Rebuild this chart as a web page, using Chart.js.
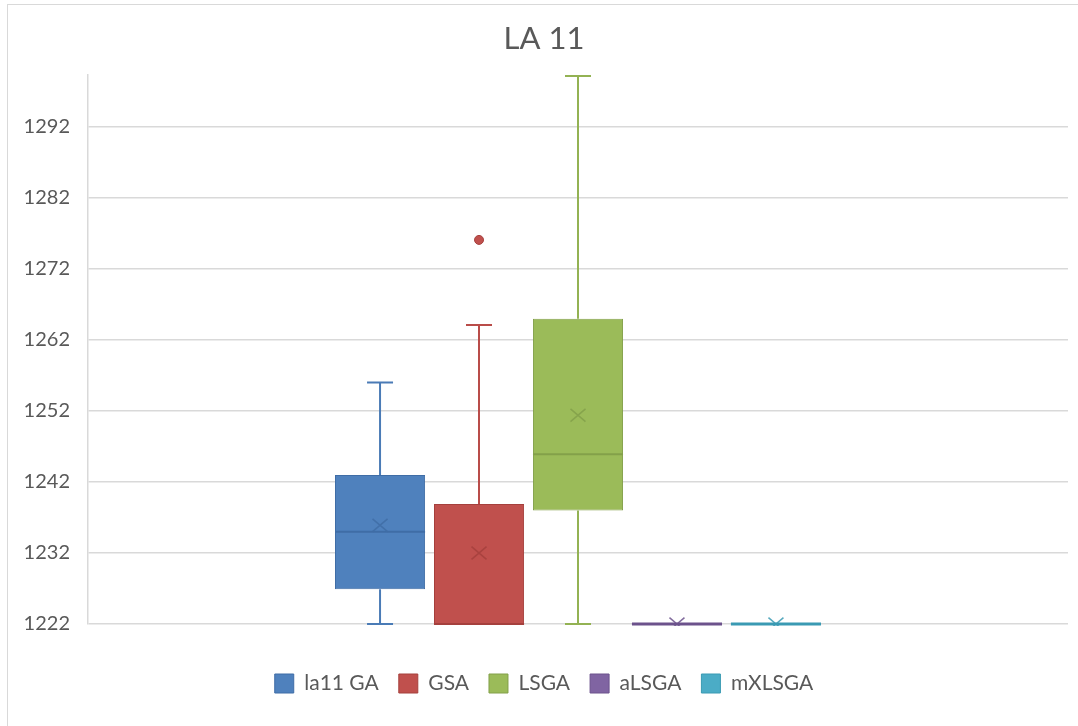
<!DOCTYPE html>
<html>
<head>
<meta charset="utf-8">
<title>LA 11</title>
<script src="https://cdn.jsdelivr.net/npm/chart.js@4/dist/chart.umd.min.js"></script>
<style>
  html, body { margin: 0; padding: 0; background: #ffffff; }
  #wrap { position: relative; width: 1078px; height: 726px; overflow: hidden; }
  #frame { position: absolute; left: 7px; top: 4px; width: 1100px; height: 760px;
           border-top: 1px solid #d9d9d9; border-left: 1px solid #d9d9d9; }
  #chart { position: absolute; left: 0; top: 0; }
</style>
</head>
<body>
<div id="wrap">
  <div id="frame"></div>
  <canvas id="chart" width="1078" height="726"></canvas>
</div>
<script>
// Box-and-whisker summary of the LA 11 results for each algorithm
const categories = [''];
const seriesNames = ['la11 GA', 'GSA', 'LSGA', 'aLSGA', 'mXLSGA'];
const minValues    = [1222,   1222,   1222,   1222, 1222];
const q1Values     = [1226.9, 1222,   1238,   1222, 1222];
const medianValues = [1235,   1222,   1245.9, 1222, 1222];
const q3Values     = [1243,   1238.9, 1265,   1222, 1222];
const maxValues    = [1256,   1264.1, 1299.2, 1222, 1222];
const meanValues   = [1235.9, 1232,   1251.4, 1222, 1222];
const outlierValues = [[], [1276.1], [], [], []];
const yTickValues  = [1222, 1232, 1242, 1252, 1262, 1272, 1282, 1292];
const yAxisMin = 1222;
const yAxisMax = 1299.3;

const fillColors   = ['#4f81bd', '#c0504d', '#9bbb59', '#8064a2', '#4bacc6'];
const borderColors = ['#3f6da6', '#a5403d', '#83a04a', '#6c528c', '#3a9ab3'];
const whiskerColors = ['#4a7bb6', '#b94c49', '#93b253', '#7a5e9c', '#44a5bf'];

const textColor = '#595959';
const gridColor = '#d9d9d9';
const fontFamily = 'Lato, "Open Sans", "Liberation Sans", sans-serif';

const datasets = seriesNames.map((name, i) => ({
  label: name,
  data: [[q1Values[i], q3Values[i]]],
  backgroundColor: fillColors[i],
  borderColor: borderColors[i],
  borderWidth: 1,
  borderSkipped: false,
  categoryPercentage: 0.505,
  barPercentage: 0.91
}));

// Draws whiskers, caps, medians, means and outliers on top of each box
const boxDetails = {
  id: 'boxDetails',
  afterDatasetsDraw(chart) {
    const ctx = chart.ctx;
    const y = chart.scales.y;
    const area = chart.chartArea;
    ctx.save();
    ctx.beginPath();
    ctx.rect(area.left, area.top - 3, area.right - area.left, area.bottom - area.top + 5);
    ctx.clip();
    seriesNames.forEach((name, i) => {
      const bar = chart.getDatasetMeta(i).data[0];
      if (!bar) return;
      const cx = bar.x;
      const half = bar.width / 2;
      const cap = 13;
      const yMin = y.getPixelForValue(minValues[i]);
      const yQ1 = y.getPixelForValue(q1Values[i]);
      const yMed = y.getPixelForValue(medianValues[i]);
      const yQ3 = y.getPixelForValue(q3Values[i]);
      const yMax = y.getPixelForValue(maxValues[i]);
      const yMean = y.getPixelForValue(meanValues[i]);

      // whiskers and caps
      ctx.strokeStyle = whiskerColors[i];
      ctx.lineWidth = 2;
      if (yMax < yQ3) {
        ctx.beginPath();
        ctx.moveTo(cx, yQ3); ctx.lineTo(cx, yMax);
        ctx.moveTo(cx - cap, yMax); ctx.lineTo(cx + cap, yMax);
        ctx.stroke();
      }
      if (yMin > yQ1) {
        ctx.beginPath();
        ctx.moveTo(cx, yQ1); ctx.lineTo(cx, yMin);
        ctx.moveTo(cx - cap, yMin); ctx.lineTo(cx + cap, yMin);
        ctx.stroke();
      }

      // median line across the box
      ctx.strokeStyle = borderColors[i];
      ctx.lineWidth = (yQ1 - yQ3) < 1 ? 3 : 2;
      ctx.beginPath();
      ctx.moveTo(cx - half, yMed); ctx.lineTo(cx + half, yMed);
      ctx.stroke();

      // mean marker
      const m = 7.5;
      ctx.strokeStyle = borderColors[i];
      ctx.globalAlpha = 0.85;
      ctx.lineWidth = 1.5;
      ctx.beginPath();
      ctx.moveTo(cx - m, yMean - m * 0.85); ctx.lineTo(cx + m, yMean + m * 0.85);
      ctx.moveTo(cx + m, yMean - m * 0.85); ctx.lineTo(cx - m, yMean + m * 0.85);
      ctx.stroke();
      ctx.globalAlpha = 1;

      // outliers
      outlierValues[i].forEach(v => {
        ctx.beginPath();
        ctx.arc(cx, y.getPixelForValue(v), 4.5, 0, Math.PI * 2);
        ctx.fillStyle = fillColors[i];
        ctx.fill();
        ctx.lineWidth = 1;
        ctx.strokeStyle = borderColors[i];
        ctx.stroke();
      });
    });
    ctx.restore();
  }
};

new Chart(document.getElementById('chart'), {
  type: 'bar',
  data: { labels: categories, datasets },
  options: {
    responsive: false,
    animation: false,
    layout: { padding: { left: 20, right: 10, top: 0, bottom: 22 } },
    plugins: {
      title: {
        display: true,
        text: 'LA 11',
        color: textColor,
        font: { family: fontFamily, size: 31, weight: 'normal' },
        padding: { top: 20, bottom: 18 }
      },
      legend: {
        position: 'bottom',
        labels: {
          color: textColor,
          font: { family: fontFamily, size: 21 },
          boxWidth: 19,
          boxHeight: 19,
          padding: 20
        }
      },
      tooltip: { enabled: false }
    },
    scales: {
      x: {
        display: true,
        ticks: { display: false },
        grid: { display: false },
        border: { display: false },
        afterFit: s => { s.height = 29; }
      },
      y: {
        min: yAxisMin,
        max: yAxisMax,
        afterBuildTicks: s => { s.ticks = yTickValues.map(v => ({ value: v })); },
        afterFit: s => { s.width = 68; },
        ticks: {
          color: textColor,
          font: { family: fontFamily, size: 20 },
          padding: 18,
          callback: v => String(v)
        },
        grid: { color: gridColor, lineWidth: 1.5, drawTicks: false },
        border: { display: true, color: gridColor, width: 1.5 }
      }
    }
  },
  plugins: [boxDetails]
});
</script>
</body>
</html>
